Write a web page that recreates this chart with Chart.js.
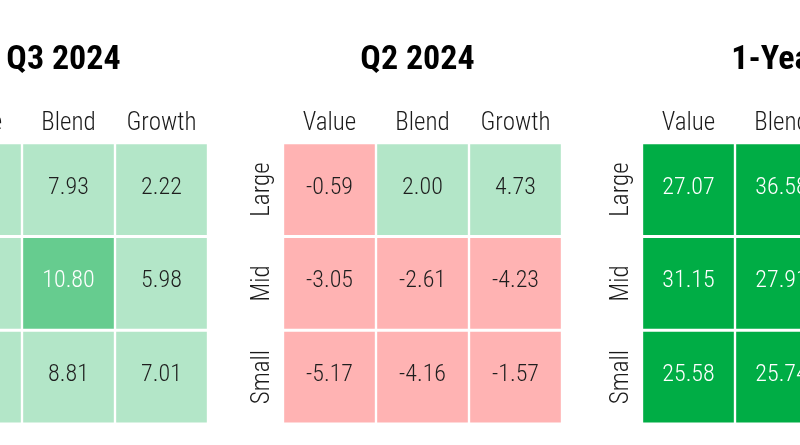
<!DOCTYPE html>
<html><head><meta charset="utf-8">
<script src="https://cdn.jsdelivr.net/npm/chart.js@4/dist/chart.umd.min.js"></script>
<style>
html,body{margin:0;padding:0;background:#fff;width:800px;height:445px;overflow:hidden;position:relative}
canvas{position:absolute;top:0}
</style></head><body>
<canvas id="c0" width="349" height="445" style="left:-111px"></canvas>
<canvas id="c1" width="349" height="445" style="left:243px"></canvas>
<canvas id="c2" width="349" height="445" style="left:602px"></canvas>
<script>
// ---- data ----
const styleCols = ['Value', 'Blend', 'Growth'];
const sizeRows = ['Large', 'Mid', 'Small'];
const panelTitles = ['Q3 2024', 'Q2 2024', '1-Year'];

// Q3 2024 (Value column is cut off in the reference; estimated)
const q3Large = [9.43, 7.93, 2.22];
const q3Mid   = [9.81, 10.80, 5.98];
const q3Small = [9.70, 8.81, 7.01];
// Q2 2024
const q2Large = [-0.59, 2.00, 4.73];
const q2Mid   = [-3.05, -2.61, -4.23];
const q2Small = [-5.17, -4.16, -1.57];
// 1-Year (Growth column is cut off in the reference; estimated)
const y1Large = [27.07, 36.58, 42.19];
const y1Mid   = [31.15, 27.91, 23.58];
const y1Small = [25.58, 25.74, 23.35];

const panels = [
  [q3Large, q3Mid, q3Small],
  [q2Large, q2Mid, q2Small],
  [y1Large, y1Mid, y1Small]
];

// ---- style ----
const FONT = '"Liberation Sans Narrow","Roboto Condensed","DejaVu Sans Condensed","Arial Narrow",sans-serif';
const LABEL_SIZE = 25;
const LIGHT = 300;
function cellColor(v) {
  if (v < 0) return '#ffb3b3';
  if (v < 10) return '#b3e6c8';
  if (v < 20) return '#66cc8f';
  return '#00ad45';
}
function textColor(v) { return v >= 10 ? '#ffffff' : '#1e1e1e'; }

// widest row label, so the rotated labels can be centred ~20px left of the grid
const mctx = document.createElement('canvas').getContext('2d');
mctx.font = LIGHT + ' ' + LABEL_SIZE + 'px ' + FONT;
const widestRow = Math.max(...sizeRows.map(s => mctx.measureText(s).width));
const rowLabelPad = 20.5 - widestRow / 2;

const valueLabels = {
  id: 'valueLabels',
  afterDatasetsDraw(chart) {
    const ctx = chart.ctx;
    const meta = chart.getDatasetMeta(0);
    const ds = chart.data.datasets[0];
    ctx.save();
    ctx.font = LIGHT + ' 24px ' + FONT;
    ctx.textAlign = 'center';
    ctx.textBaseline = 'alphabetic';
    meta.data.forEach((pt, i) => {
      const v = ds.data[i].v;
      ctx.fillStyle = textColor(v);
      ctx.fillText(v.toFixed(2), pt.x, pt.y + 4);
    });
    ctx.restore();
  }
};

panels.forEach((rows, p) => {
  const pts = [];
  rows.forEach((vals, r) => vals.forEach((v, c) => pts.push({x: styleCols[c], y: sizeRows[r], v: v})));
  new Chart(document.getElementById('c' + p), {
    type: 'scatter',
    data: {
      datasets: [{
        data: pts,
        pointStyle: 'rect',
        pointRadius: 64.1,
        pointHoverRadius: 64.1,
        pointBorderWidth: 0,
        pointBackgroundColor: pts.map(d => cellColor(d.v)),
        clip: false
      }]
    },
    options: {
      responsive: false,
      animation: false,
      events: [],
      layout: {autoPadding: false, padding: {left: 0, right: 0, top: 0, bottom: 21}},
      plugins: {
        legend: {display: false},
        tooltip: {enabled: false},
        title: {
          display: true,
          text: panelTitles[p],
          color: '#000000',
          font: {family: FONT, size: 34, weight: 'bold', lineHeight: 1.2},
          padding: {top: 39.8, bottom: 0}
        }
      },
      scales: {
        x: {
          type: 'category', labels: styleCols, position: 'top', offset: true,
          grid: {display: false, drawTicks: false}, border: {display: false},
          ticks: {font: {family: FONT, size: LABEL_SIZE, weight: LIGHT}, color: '#1a1a1a', padding: 4,
                  minRotation: 0, maxRotation: 0, autoSkip: false},
          afterFit(s) { s.height = 62.1; s.paddingLeft = 0; s.paddingRight = 0; }
        },
        y: {
          type: 'category', labels: sizeRows, offset: true, position: 'left',
          grid: {display: false, drawTicks: false}, border: {display: false},
          ticks: {font: {family: FONT, size: LABEL_SIZE, weight: LIGHT}, color: '#1a1a1a', padding: rowLabelPad,
                  minRotation: 90, maxRotation: 90, crossAlign: 'center', autoSkip: false},
          afterFit(s) { s.width = 40; s.paddingTop = 0; s.paddingBottom = 0; }
        },
        yRight: {
          type: 'category', labels: sizeRows, offset: true, position: 'right',
          grid: {display: false, drawTicks: false}, border: {display: false},
          ticks: {display: false},
          afterFit(s) { s.width = 30; s.paddingTop = 0; s.paddingBottom = 0; }
        }
      }
    },
    plugins: [valueLabels]
  });
});
</script>
</body></html>
